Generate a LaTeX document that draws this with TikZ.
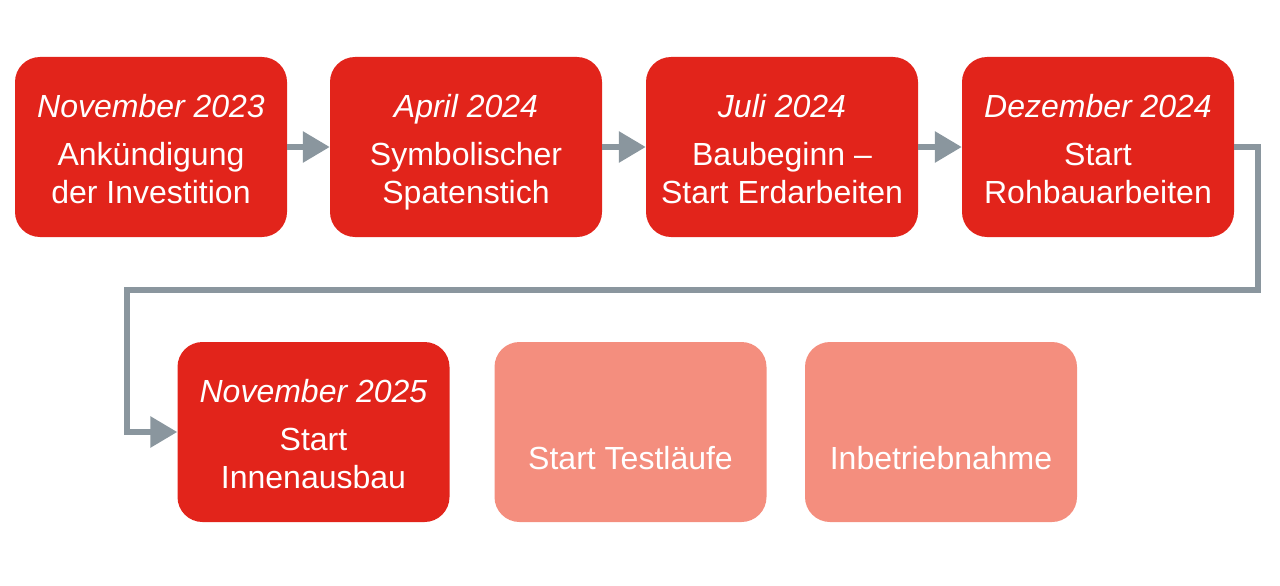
\documentclass[tikz,border=0pt]{standalone}
\usepackage{fontspec}
\setmainfont{Liberation Sans}
\usepackage{tikz}
\usetikzlibrary{arrows.meta}

\definecolor{stepred}{RGB}{226,36,27}
\definecolor{steplight}{RGB}{244,142,126}
\definecolor{flowgray}{RGB}{138,150,158}

\begin{document}
\begin{tikzpicture}[x=1pt,y=-1pt,
		phase/.style={rounded corners=25pt,minimum width=272pt,minimum height=180pt,
			inner sep=0pt,align=center,text=white,text depth=0pt,
			font=\fontsize{32}{38}\selectfont},
		done/.style={phase,fill=stepred},
		todo/.style={phase,fill=steplight},
		flow/.style={line width=6pt,draw=flowgray,-{Triangle[length=27pt,width=30pt]}}]

		\useasboundingbox (0,0) rectangle (1280,586);

		\node[done] (b1) at ( 151.0,147.0) {\strut\textit{November 2023}\\[10pt]Ankündigung\\der Investition};
		\node[done] (b2) at ( 466.0,147.0) {\strut\textit{April 2024}\\[10pt]Symbolischer\\Spatenstich};
		\node[done] (b3) at ( 782.0,147.0) {\strut\textit{Juli 2024}\\[10pt]Baubeginn --\\Start Erdarbeiten};
		\node[done] (b4) at (1098.0,147.0) {\strut\textit{Dezember 2024}\\[10pt]Start\\Rohbauarbeiten};
		\node[done] (b5) at ( 313.5,432.0) {\strut\textit{November 2025}\\[10pt]Start\\Innenausbau};
		\node[todo] (b6) at ( 630.5,432.0) {\strut\\[10pt]Start Testläufe};
		\node[todo] (b7) at ( 941.0,432.0) {\strut\\[10pt]Inbetriebnahme};

		\coordinate (t1) at (1257.5,289.5);
		\coordinate (t2) at ( 126.5,289.5);

		\draw[flow] (b1) to (b2);
		\draw[flow] (b2) to (b3);
		\draw[flow] (b3) to (b4);
		\draw[flow] (b4.east) -| (t1) -- (t2) |- (b5.west);

	\end{tikzpicture}
\end{document}
